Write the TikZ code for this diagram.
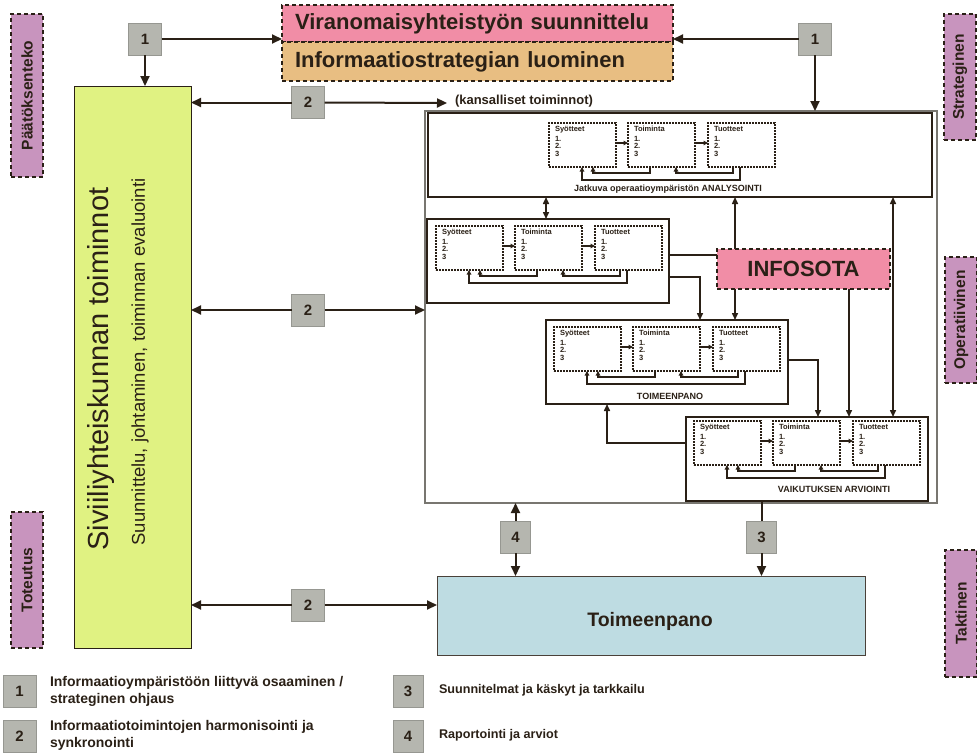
\documentclass[tikz,border=0pt]{standalone}
\usepackage{fontspec}
\setmainfont{Liberation Sans}
\usetikzlibrary{arrows.meta,calc}

\definecolor{ink}{RGB}{42,32,22}
\definecolor{pinkfill}{RGB}{241,141,166}
\definecolor{tanfill}{RGB}{232,190,130}
\definecolor{greenfill}{RGB}{224,242,130}
\definecolor{bluefill}{RGB}{190,220,226}
\definecolor{purplefill}{RGB}{200,148,190}
\definecolor{numfill}{RGB}{181,182,175}
\definecolor{numedge}{RGB}{150,151,145}
\definecolor{framegray}{RGB}{120,118,112}

% One input -> action -> output chain with its feedback loops.
% #1 name prefix, #2/#3 top-left corner of the first box
\newcommand\procrow[3]{%
  \node[subbox] (#1s) at (#2,#3) {};
  \node[subbox] (#1t) at ($(#1s.north west)+(79,0)$) {};
  \node[subbox] (#1p) at ($(#1t.north west)+(80,0)$) {};
  \foreach \b/\t in {s/Syötteet, t/Toiminta, p/Tuotteet}
    \node[subtext] (#1\b txt) at ($(#1\b.north west)+(6,3)$) {\t\\[2.5pt]1.\\2.\\3};
  \draw[subarr] ($(#1s.north east)+(0,20)$) -- ($(#1t.north west)+(0,20)$);
  \draw[subarr] ($(#1t.north east)+(0,20)$) -- ($(#1p.north west)+(0,20)$);
  \draw[subarr] ($(#1t.south west)+(22,0)$) -- ++(0,6) -| ($(#1s.south west)+(44,0)$);
  \draw[subarr] ($(#1p.south west)+(25,0)$) -- ++(0,6) -| ($(#1t.south west)+(48,0)$);
  \draw[subarr] ($(#1p.south west)+(32,0)$) -- ++(0,13) -| ($(#1s.south west)+(33,0)$);
}

\tikzset{
  every node/.style={inner sep=0pt, outer sep=0pt},
  sidetag/.style={draw=ink, fill=purplefill, dash pattern=on 4pt off 3pt, line width=1.6pt,
    anchor=north west, minimum width=32pt, font=\fontsize{15.5}{18}\selectfont\bfseries, text=ink},
  numbox/.style={draw=numedge, fill=numfill, line width=1pt, minimum width=33pt, minimum height=32pt,
    font=\fontsize{15}{18}\selectfont\bfseries, text=ink},
  topbox/.style={draw=ink, dash pattern=on 4pt off 3pt, line width=1.6pt, minimum height=37pt,
    text width=365pt, inner xsep=13pt, align=left, font=\fontsize{22}{26}\selectfont\bfseries,
    text=ink, anchor=north west},
  arr/.style={draw=ink, line width=2pt, >={Triangle[length=10pt,width=9pt]}, ->},
  link/.style={draw=ink, line width=1.5pt, >={Triangle[length=7pt,width=6pt]}},
  linkarr/.style={link, ->},
  linkboth/.style={link, <->},
  stagebox/.style={draw=ink, fill=white, line width=1.2pt, anchor=north west,
    minimum width=242pt, minimum height=84pt},
  subbox/.style={draw=ink, fill=white, dash pattern=on 2pt off 1pt, line width=1.3pt,
    anchor=north west, minimum width=67pt, minimum height=44pt},
  subtext/.style={anchor=north west, align=left, font=\fontsize{7.5}{7.5}\selectfont\bfseries, text=ink},
  subarr/.style={draw=ink, line width=1.3pt, -{Triangle[length=4.5pt,width=4.5pt]}},
  stagelabel/.style={font=\fontsize{9}{11}\selectfont\bfseries, text=ink},
  legendtext/.style={anchor=west, align=left, font=\fontsize{14}{17}\selectfont\bfseries, text=ink},
}

\begin{document}
\begin{tikzpicture}[x=1pt,y=-1pt]
\useasboundingbox (0,0) rectangle (977,753);

% level tags
\node[sidetag, minimum height=163pt] (tagdec) at (11,14) {\rotatebox{90}{Päätöksenteko}};
\node[sidetag, minimum height=126pt] (tagstr) at (944,14) {\rotatebox{90}{Strateginen}};
\node[sidetag, minimum height=126pt] (tagope) at (945,257) {\rotatebox{90}{Operatiivinen}};
\node[sidetag, minimum height=136pt] (tagtot) at (11,512) {\rotatebox{90}{Toteutus}};
\node[sidetag, minimum height=127pt] (tagtak) at (945,550) {\rotatebox{90}{Taktinen}};

% strategy boxes
\node[topbox, fill=pinkfill] (viran) at (282,5) {Viranomaisyhteistyön suunnittelu};
\node[topbox, fill=tanfill, minimum height=39pt] (istrat) at (282,42) {Informaatiostrategian luominen};

% civil society
\node[draw=ink, fill=greenfill, line width=1pt, anchor=north west,
      minimum width=117pt, minimum height=562pt] (civ) at (74,86) {};
\node[rotate=90, font=\fontsize{29}{34}\selectfont, text=ink] (civtitle) at (101,369) {Siviiliyhteiskunnan toiminnot};
\node[rotate=90, font=\fontsize{18.5}{22}\selectfont, text=ink] (civsub) at (140,362) {Suunnittelu, johtaminen, toiminnan evaluointi};

% national operations frame
\node[draw=framegray, line width=1.5pt, anchor=north west,
      minimum width=512pt, minimum height=392pt] (outer) at (425,111) {};
\node[anchor=west, font=\fontsize{13}{15}\selectfont\bfseries, text=ink] (kans) at (455,101) {(kansalliset toiminnot)};
\coordinate (kansend) at (447,103);

\node[stagebox, minimum width=504pt] (b1) at (428,113) {};
\node[stagebox] (b2) at (427,219) {};
\node[stagebox] (b3) at (546,320) {};
\node[stagebox] (b4) at (686,417) {};

\procrow{a}{549}{123}
\procrow{b}{436}{226}
\procrow{c}{554}{327}
\procrow{d}{694}{421}

\node[stagelabel] (lab1) at (668,189) {Jatkuva operaatioympäristön ANALYSOINTI};
\node[stagelabel] (lab3) at (670,396) {TOIMEENPANO};
\node[stagelabel] (lab4) at (834,489) {VAIKUTUKSEN ARVIOINTI};

\node[draw=ink, fill=pinkfill, dash pattern=on 4pt off 3pt, line width=1.6pt, anchor=north west,
      minimum width=173pt, minimum height=40pt, font=\fontsize{22}{26}\selectfont\bfseries,
      text=ink] (info) at (717,249) {INFOSOTA};

% execution
\node[draw=ink!85, fill=bluefill, line width=1pt, anchor=north west,
      minimum width=428pt, minimum height=79pt] (toim) at (437,576) {};
\node[font=\fontsize{19.5}{23}\selectfont\bfseries, text=ink] (toimtext) at (650,621) {Toimeenpano};

% numbered flow markers
\node[numbox] (n1l) at (145,39) {1};
\node[numbox] (n1r) at (815,39) {1};
\node[numbox] (n2a) at (308,102.5) {2};
\node[numbox] (n2b) at (308,310) {2};
\node[numbox] (n2c) at (308,605) {2};
\node[numbox, minimum width=30pt] (n4) at (515.5,537) {4};
\node[numbox, minimum width=30pt] (n3) at (761.5,537) {3};

\draw[arr] (n1l.east) -- (n1l.east -| viran.west);
\draw[arr] (n1l.south) -- (n1l.south |- civ.north);
\draw[arr] (n1r.west) -- (n1r.west -| viran.east);
\draw[arr] (n1r.south) -- (n1r.south |- outer.north);
\draw[arr] (n2a.west) -- (n2a.west -| civ.east);
\draw[arr] (n2a.east) -- (kansend);
\draw[arr] (n2b.west) -- (n2b.west -| civ.east);
\draw[arr] (n2b.east) -- (n2b.east -| outer.west);
\draw[arr] (n2c.west) -- (n2c.west -| civ.east);
\draw[arr] (n2c.east) -- (n2c.east -| toim.west);
\draw[arr] (n4.north) -- (n4.north |- outer.south);
\draw[arr] (n4.south) -- (n4.south |- toim.north);
\draw[draw=ink, line width=2pt] (n3.north) -- (n3.north |- b4.south);
\draw[arr] (n3.south) -- (n3.south |- toim.north);

% links between the stages
\coordinate (xA) at (546,0);
\coordinate (xB) at (735,0);
\coordinate (xC) at (893,0);
\coordinate (xD) at (849,0);
\coordinate (xF) at (700,0);
\coordinate (xG) at (818,0);
\coordinate (xH) at (607,0);
\coordinate (yE) at (0,255);
\coordinate (yF) at (0,277);
\coordinate (yG) at (0,360);
\coordinate (yH) at (0,443);

\draw[linkboth] (b1.south -| xA) -- (b2.north -| xA);
\draw[linkarr] (info.north -| xB) -- (b1.south -| xB);
\draw[linkarr] (info.south -| xB) -- (b3.north -| xB);
\draw[linkboth] (b1.south -| xC) -- (b4.north -| xC);
\draw[linkarr] (info.south -| xD) -- (b4.north -| xD);
\draw[link] (b2.east |- yE) -- (info.west |- yE);
\draw[linkarr] (b2.east |- yF) -| (b3.north -| xF);
\draw[linkarr] (b3.east |- yG) -| (b4.north -| xG);
\draw[linkarr] (b4.west |- yH) -| (b3.south -| xH);

% legend
\node[numbox, anchor=north west] (k1) at (3,675) {1};
\node[legendtext] (k1t) at (50,691) {Informaatioympäristöön liittyvä osaaminen /\\strateginen ohjaus};
\node[numbox, anchor=north west] (k2) at (3,720) {2};
\node[legendtext] (k2t) at (50,735) {Informaatiotoimintojen harmonisointi ja\\synkronointi};
\node[numbox, anchor=north west, minimum width=30pt] (k3) at (393,675) {3};
\node[legendtext, font=\fontsize{12.6}{15}\selectfont\bfseries] (k3t) at (439,690) {Suunnitelmat ja käskyt ja tarkkailu};
\node[numbox, anchor=north west, minimum width=30pt] (k4) at (393,720) {4};
\node[legendtext, font=\fontsize{12.6}{15}\selectfont\bfseries] (k4t) at (439,735) {Raportointi ja arviot};
\end{tikzpicture}
\end{document}
